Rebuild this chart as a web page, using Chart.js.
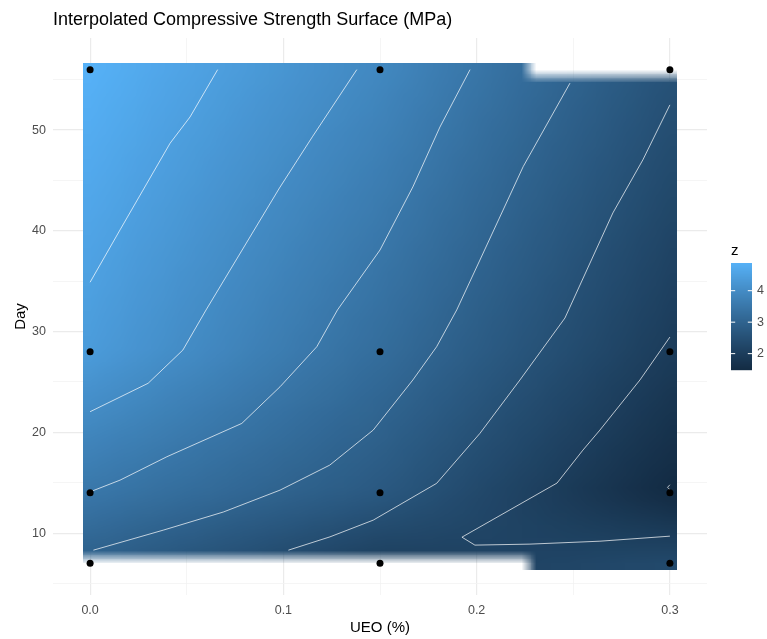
<!DOCTYPE html>
<html>
<head>
<meta charset="utf-8">
<script src="https://cdn.jsdelivr.net/npm/chart.js@4.4.1/dist/chart.umd.min.js"></script>
<style>
    html, body { margin: 0; padding: 0; background: #ffffff; }
</style>
</head>
<body>
<canvas id="chart_superficie" width="767" height="639"></canvas>
<script>
var ueo = [0, 0.15, 0.3];
var dias = [7, 14, 28, 56];
var z_dia7 = [2.89, 2.02, 2.33];
var z_dia14 = [3.50, 2.74, 1.48];
var z_dia28 = [4.38, 3.26, 1.97];
var z_dia56 = [4.88, 3.92, 2.58];

// axis ticks
var xGrid = [0, 0.05, 0.1, 0.15, 0.2, 0.25, 0.3];
var xTicks = [0, 0.1, 0.2, 0.3];
var yGrid = [5, 10, 15, 20, 25, 30, 35, 40, 45, 50, 55];
var yTicks = [10, 20, 30, 40, 50];
var legendTicks = [2, 3, 4];

// empty (NA) cells of the interpolated surface: [ueo from, ueo to]
var gapDia56 = [0.227, 0.3];
var gapDia7 = [0, 0.227];

// contour lines, [ueo, day]
var contorno1 = [[0, 34.9], [0.0155, 40.1], [0.0414, 48.7], [0.0517, 51.3], [0.066, 56]];
var contorno2 = [[0, 22.05], [0.030, 24.87], [0.048, 28.17], [0.060, 32.15], [0.098, 44.26], [0.115, 49.33], [0.138, 56]];
var contorno3 = [[0, 14.1], [0.0155, 15.26], [0.0397, 17.58], [0.0785, 20.89], [0.0983, 24.53], [0.1173, 28.5], [0.128, 32.15],
    [0.15, 38.1], [0.167, 44.36], [0.181, 50.3], [0.1966, 56]];
var contorno4 = [[0.0017, 8.31], [0.0379, 10.3], [0.069, 12.1], [0.0983, 14.27], [0.124, 16.75], [0.1465, 20.23], [0.167, 25.2],
    [0.1793, 28.5], [0.1897, 32.15], [0.2017, 37.1], [0.2241, 46.38], [0.2483, 54.66]];
var contorno5 = [[0.1026, 8.31], [0.1241, 9.63], [0.1465, 11.29], [0.1793, 14.94], [0.2017, 19.9], [0.2224, 25.2], [0.2457, 31.35],
    [0.2705, 41.78], [0.286, 47.04], [0.3, 52.5]];
var contorno6 = [[0.3, 29.46], [0.2845, 25.2], [0.2638, 20.23], [0.255, 18.24], [0.2416, 14.97], [0.1924, 9.6], [0.1991, 8.81],
    [0.2276, 8.91], [0.2638, 9.2], [0.3, 9.7]];
var contorno7 = [[0.3, 14.3], [0.2988, 14.55], [0.3, 14.8]];

var linhasZ = [z_dia7, z_dia14, z_dia28, z_dia56];
var zMin = Math.min.apply(null, [].concat(z_dia7, z_dia14, z_dia28, z_dia56));
var zMax = Math.max.apply(null, [].concat(z_dia7, z_dia14, z_dia28, z_dia56));

var FONTE = 'Liberation Sans, Arial, sans-serif';


// ---- colour scale (ggplot default, mixed in Lab) ----
function hexParaLab(hex) {
    var c = [1, 3, 5].map(function (i) { return parseInt(hex.substr(i, 2), 16) / 255; });
    c = c.map(function (v) { return v <= 0.04045 ? v / 12.92 : Math.pow((v + 0.055) / 1.055, 2.4); });
    var X = (0.4124 * c[0] + 0.3576 * c[1] + 0.1805 * c[2]) / 0.95047;
    var Y = (0.2126 * c[0] + 0.7152 * c[1] + 0.0722 * c[2]);
    var Z = (0.0193 * c[0] + 0.1192 * c[1] + 0.9505 * c[2]) / 1.08883;
    var f = function (t) { return t > 0.008856 ? Math.cbrt(t) : 7.787 * t + 16 / 116; };
    return [116 * f(Y) - 16, 500 * (f(X) - f(Y)), 200 * (f(Y) - f(Z))];
}

function labParaRgb(lab) {
    var fy = (lab[0] + 16) / 116, fx = fy + lab[1] / 500, fz = fy - lab[2] / 200;
    var inv = function (t) { return t * t * t > 0.008856 ? t * t * t : (t - 16 / 116) / 7.787; };
    var X = inv(fx) * 0.95047, Y = inv(fy), Z = inv(fz) * 1.08883;
    var r = 3.2406 * X - 1.5372 * Y - 0.4986 * Z;
    var g = -0.9689 * X + 1.8758 * Y + 0.0415 * Z;
    var b = 0.0557 * X - 0.2040 * Y + 1.0570 * Z;
    return [r, g, b].map(function (v) {
        v = v <= 0.0031308 ? 12.92 * v : 1.055 * Math.pow(v, 1 / 2.4) - 0.055;
        return Math.max(0, Math.min(255, Math.round(v * 255)));
    });
}

var labBaixo = hexParaLab('#132B43');
var labAlto = hexParaLab('#56B1F7');

function corDoZ(z) {
    var t = (z - zMin) / (zMax - zMin);
    t = Math.max(0, Math.min(1, t));
    return labParaRgb([0, 1, 2].map(function (i) { return labBaixo[i] + (labAlto[i] - labBaixo[i]) * t; }));
}

function acharIntervalo(lista, v) {
    for (var i = 0; i < lista.length - 2; i++) {
        if (v <= lista[i + 1]) return i;
    }
    return lista.length - 2;
}

// value of the surface between the measured points
function zEm(x, dia) {
    var i = acharIntervalo(ueo, x);
    var j = acharIntervalo(dias, dia);
    var tx = (x - ueo[i]) / (ueo[i + 1] - ueo[i]);
    var ty = (dia - dias[j]) / (dias[j + 1] - dias[j]);
    var a = linhasZ[j][i] + (linhasZ[j][i + 1] - linhasZ[j][i]) * tx;
    var b = linhasZ[j + 1][i] + (linhasZ[j + 1][i + 1] - linhasZ[j + 1][i]) * tx;
    return a + (b - a) * ty;
}


// ---- plugins ----
var pluginSuperficie = {
    id: 'superficie',
    beforeDatasetsDraw: function (chart) {
        var xs = chart.scales.x, ys = chart.scales.y, ctx = chart.ctx;
        var n = 40;
        var x0 = ueo[0], x1 = ueo[ueo.length - 1];
        var d0 = dias[0], d1 = dias[dias.length - 1];
        var dx = (x1 - x0) / (n - 1), dd = (d1 - d0) / (n - 1);

        var off = document.createElement('canvas');
        off.width = n;
        off.height = n;
        var octx = off.getContext('2d');
        var img = octx.createImageData(n, n);

        for (var r = 0; r < n; r++) {
            var dia = d1 - r * dd;
            for (var c = 0; c < n; c++) {
                var x = x0 + c * dx;
                var k = (r * n + c) * 4;
                var vazio = (r == 0 && x >= gapDia56[0] && x <= gapDia56[1] + 1e-9) ||
                    (r == n - 1 && x >= gapDia7[0] && x < gapDia7[1]);
                if (vazio) {
                    img.data[k + 3] = 0;
                    continue;
                }
                var rgb = corDoZ(zEm(x, dia));
                img.data[k] = rgb[0];
                img.data[k + 1] = rgb[1];
                img.data[k + 2] = rgb[2];
                img.data[k + 3] = 255;
            }
        }
        octx.putImageData(img, 0, 0);

        var esq = xs.getPixelForValue(x0 - dx / 2);
        var dir = xs.getPixelForValue(x1 + dx / 2);
        var topo = ys.getPixelForValue(d1 + dd / 2);
        var base = ys.getPixelForValue(d0 - dd / 2);

        ctx.save();
        ctx.imageSmoothingEnabled = true;
        ctx.drawImage(off, esq, topo, dir - esq, base - topo);
        ctx.restore();
    }
};

var pluginTextos = {
    id: 'textos',
    afterDraw: function (chart) {
        var ctx = chart.ctx;
        ctx.save();

        // title
        ctx.fillStyle = '#000000';
        ctx.font = '18px ' + FONTE;
        ctx.textAlign = 'left';
        ctx.textBaseline = 'middle';
        ctx.fillText('Interpolated Compressive Strength Surface (MPa)', chart.chartArea.left, 20);

        // colour bar
        var bx = 731, bw = 21, by = 263, bh = 107;
        ctx.font = '15px ' + FONTE;
        ctx.fillText('z', bx, 251);

        for (var p = 0; p < bh; p++) {
            var z = zMax - (zMax - zMin) * (p + 0.5) / bh;
            var rgb = corDoZ(z);
            ctx.fillStyle = 'rgb(' + rgb.join(',') + ')';
            ctx.fillRect(bx, by + p, bw, 1.2);
        }

        ctx.font = '12.5px ' + FONTE;
        ctx.fillStyle = '#4D4D4D';
        legendTicks.forEach(function (v) {
            var py = by + (zMax - v) / (zMax - zMin) * bh;
            ctx.strokeStyle = '#ffffff';
            ctx.lineWidth = 1;
            ctx.beginPath();
            ctx.moveTo(bx, py);
            ctx.lineTo(bx + bw / 5, py);
            ctx.moveTo(bx + bw, py);
            ctx.lineTo(bx + bw - bw / 5, py);
            ctx.stroke();
            ctx.fillText(String(v), bx + bw + 5, py);
        });

        ctx.restore();
    }
};


// ---- chart ----
function paraPontos(lista) {
    return lista.map(function (p) { return { x: p[0], y: p[1] }; });
}

function linhaContorno(lista) {
    return {
        type: 'line',
        data: paraPontos(lista),
        showLine: true,
        borderColor: 'rgba(255,255,255,0.7)',
        borderWidth: 1,
        pointRadius: 0,
        tension: 0,
        fill: false
    };
}

var pontos = [];
dias.forEach(function (d) {
    ueo.forEach(function (u) { pontos.push({ x: u, y: d }); });
});

var ctxSuperficie = document.getElementById('chart_superficie');

new Chart(ctxSuperficie, {
    type: 'scatter',
    data: {
        datasets: [
            {
                data: pontos,
                pointRadius: 3.5,
                pointHoverRadius: 3.5,
                backgroundColor: '#000000',
                borderWidth: 0
            },
            linhaContorno(contorno1),
            linhaContorno(contorno2),
            linhaContorno(contorno3),
            linhaContorno(contorno4),
            linhaContorno(contorno5),
            linhaContorno(contorno6),
            linhaContorno(contorno7)
        ]
    },
    plugins: [pluginSuperficie, pluginTextos],
    options: {
        responsive: false,
        animation: false,
        layout: {
            padding: { left: 12, right: 60, top: 38, bottom: 2 }
        },
        scales: {
            x: {
                type: 'linear',
                min: -0.0192,
                max: 0.3192,
                afterBuildTicks: function (scale) {
                    scale.ticks = xGrid.map(function (v) { return { value: v }; });
                },
                afterFit: function (scale) { scale.height = 42; },
                ticks: {
                    autoSkip: false,
                    maxRotation: 0,
                    padding: 8,
                    color: '#4D4D4D',
                    font: { family: FONTE, size: 12.5 },
                    callback: function (value) {
                        return xTicks.indexOf(value) >= 0 ? value.toFixed(1) : '';
                    }
                },
                grid: {
                    drawTicks: false,
                    color: function (c) { return xTicks.indexOf(c.tick.value) >= 0 ? '#EBEBEB' : '#F2F2F2'; },
                    lineWidth: function (c) { return xTicks.indexOf(c.tick.value) >= 0 ? 1.2 : 0.8; }
                },
                border: { display: false },
                title: {
                    display: true,
                    text: 'UEO (%)',
                    color: '#000000',
                    font: { family: FONTE, size: 15 },
                    padding: 0
                }
            },
            y: {
                type: 'linear',
                min: 3.86,
                max: 59.14,
                afterBuildTicks: function (scale) {
                    scale.ticks = yGrid.map(function (v) { return { value: v }; });
                },
                afterFit: function (scale) { scale.width = 41; },
                ticks: {
                    autoSkip: false,
                    padding: 7,
                    color: '#4D4D4D',
                    font: { family: FONTE, size: 12.5 },
                    callback: function (value) {
                        return yTicks.indexOf(value) >= 0 ? String(value) : '';
                    }
                },
                grid: {
                    drawTicks: false,
                    color: function (c) { return yTicks.indexOf(c.tick.value) >= 0 ? '#EBEBEB' : '#F2F2F2'; },
                    lineWidth: function (c) { return yTicks.indexOf(c.tick.value) >= 0 ? 1.2 : 0.8; }
                },
                border: { display: false },
                title: {
                    display: true,
                    text: 'Day',
                    color: '#000000',
                    font: { family: FONTE, size: 15 },
                    padding: 0
                }
            }
        },
        plugins: {
            legend: { display: false },
            tooltip: { enabled: false }
        }
    }
});
</script>
</body>
</html>
